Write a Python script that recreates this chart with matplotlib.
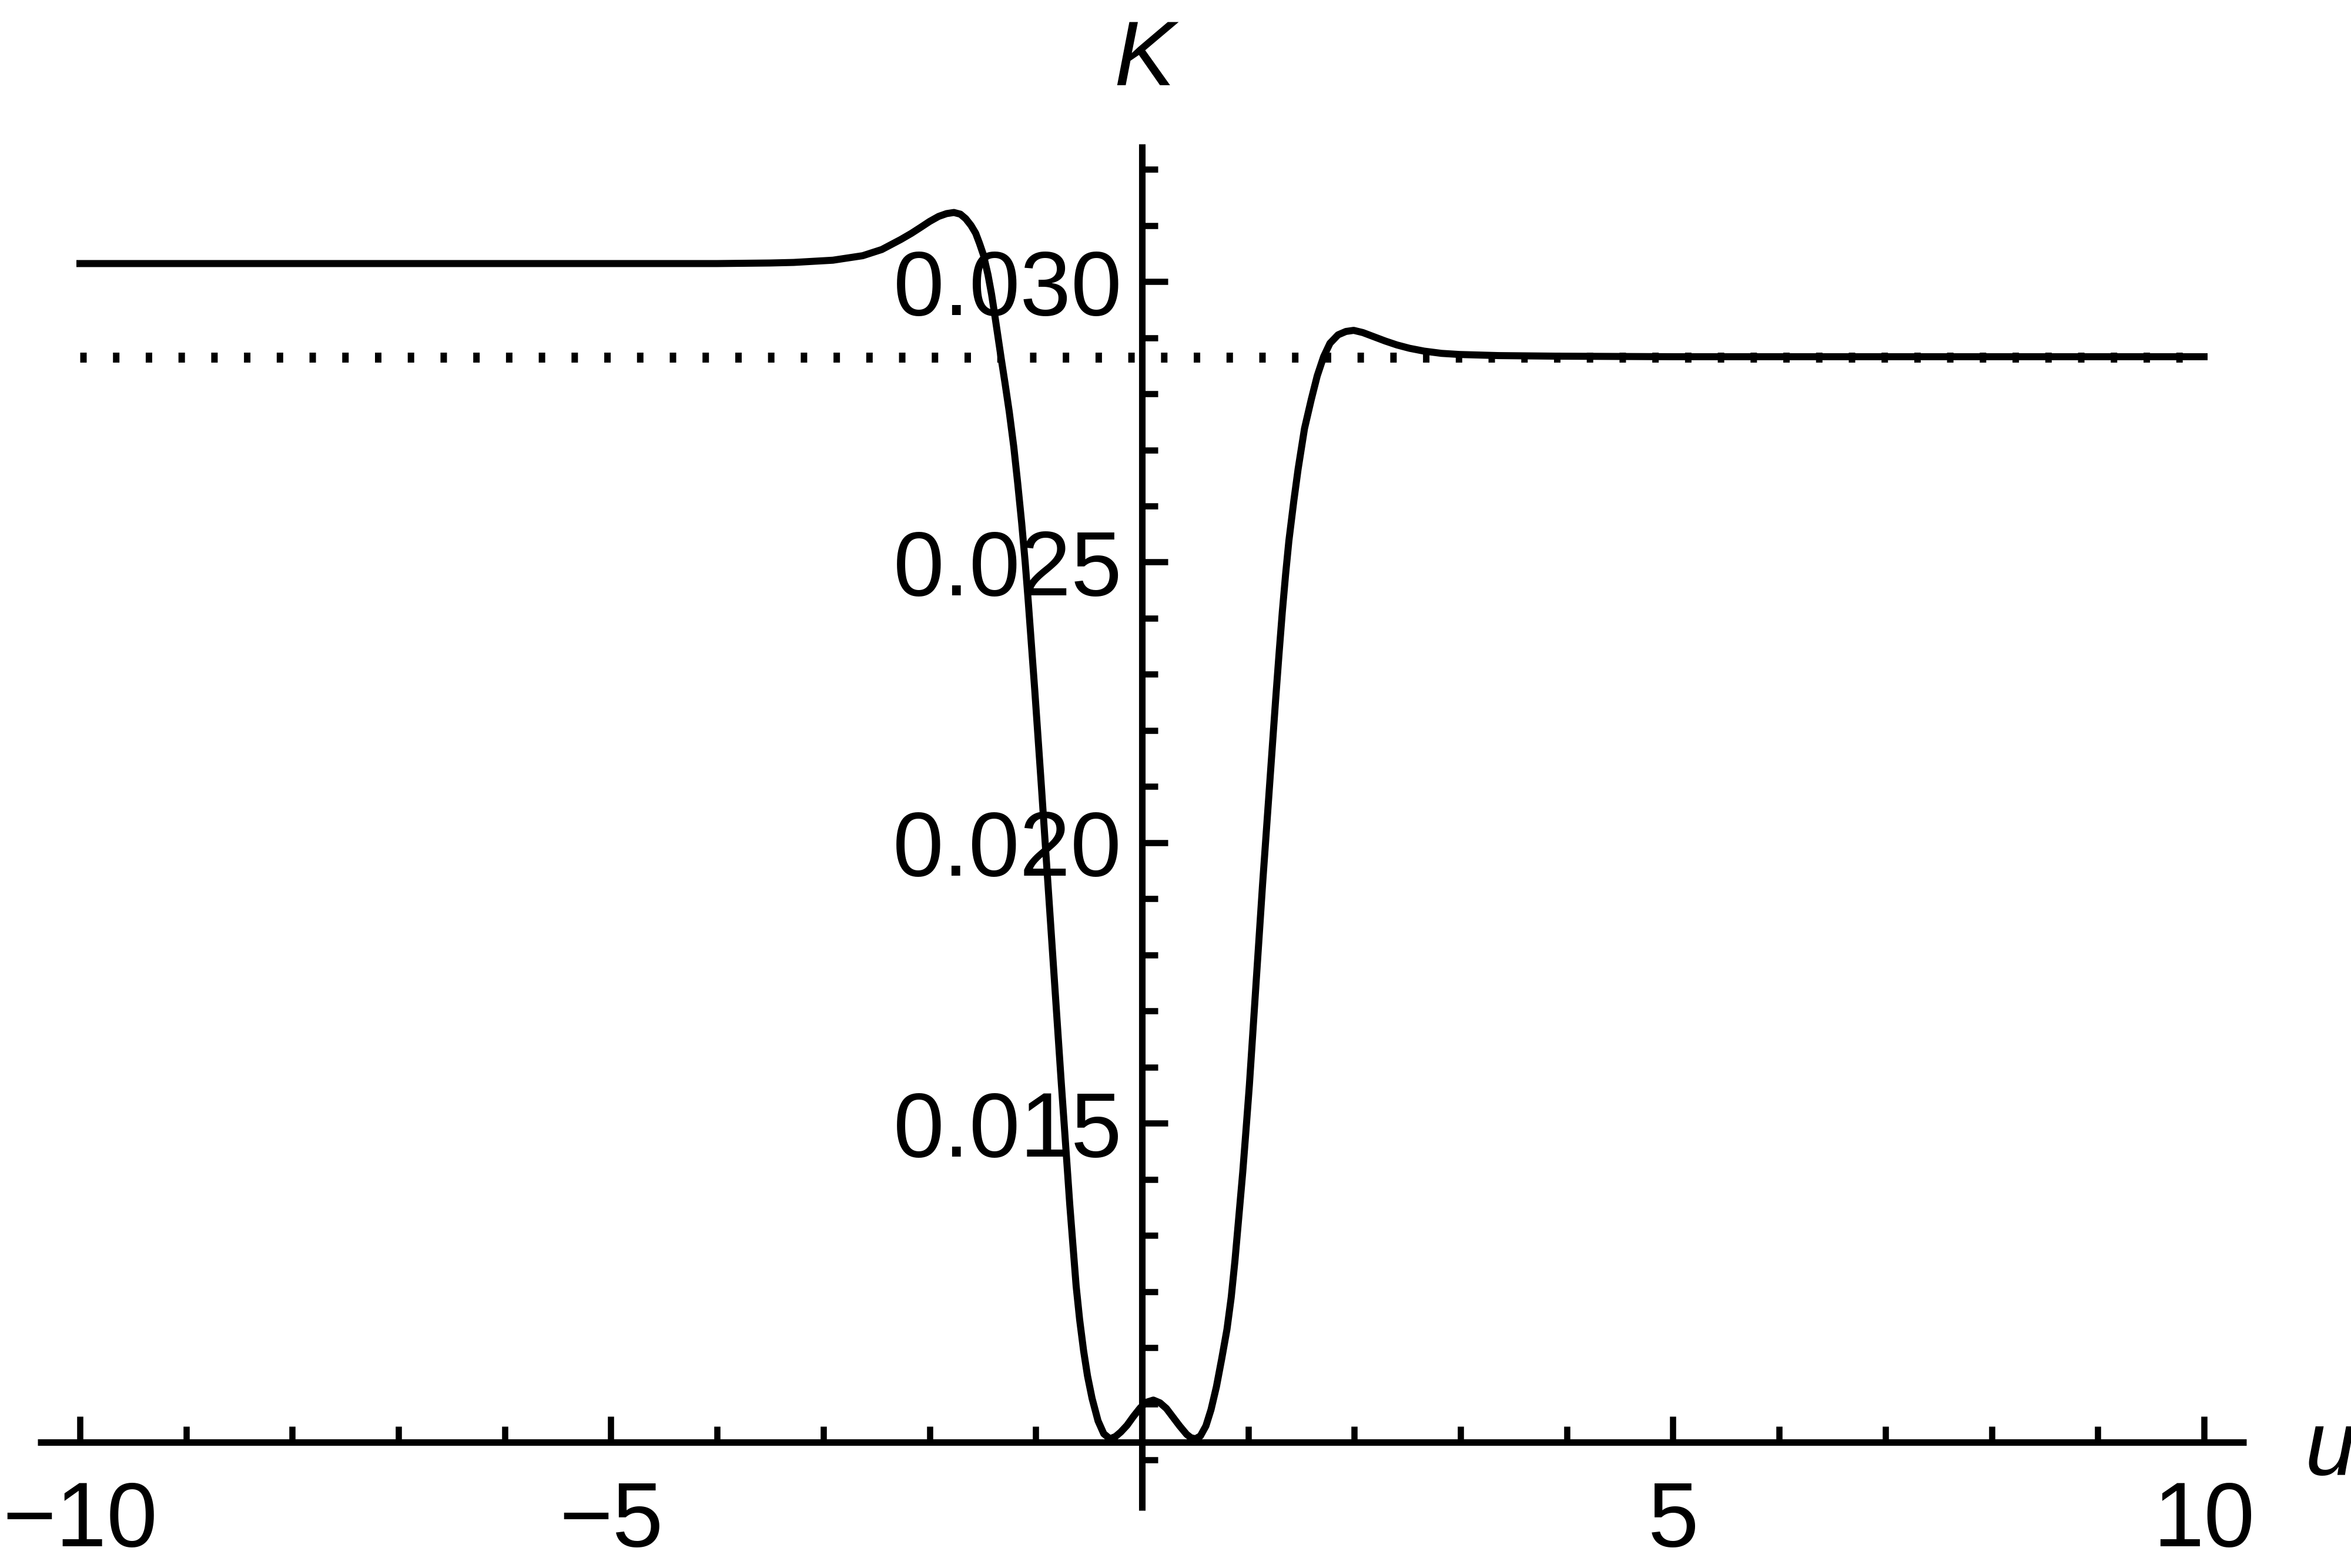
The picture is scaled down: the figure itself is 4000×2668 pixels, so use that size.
import matplotlib
matplotlib.use("Agg")
import matplotlib.pyplot as plt
from matplotlib.ticker import FixedLocator, FixedFormatter

# curve K(u)
u_vals = [-10.0, -8.0, -6.0, -5.0, -4.0, -3.5, -3.28, -2.91, -2.63, -2.45,
          -2.27, -2.17, -2.08, -2.0, -1.915, -1.84, -1.771, -1.71, -1.66, -1.61,
          -1.566, -1.53, -1.494, -1.45, -1.417, -1.39, -1.361, -1.325, -1.289, -1.25,
          -1.207, -1.17, -1.133, -1.10, -1.071, -1.04, -1.009, -0.947, -0.885, -0.823,
          -0.761, -0.711, -0.68, -0.649, -0.62, -0.587, -0.55, -0.513, -0.47, -0.414,
          -0.36, -0.302, -0.25, -0.20, -0.141, -0.08, -0.017, 0.04, 0.107, 0.17,
          0.23, 0.29, 0.354, 0.42, 0.46, 0.503, 0.55, 0.602, 0.65, 0.701,
          0.75, 0.80, 0.84, 0.875, 0.91, 0.949, 0.98, 1.011, 1.042, 1.073,
          1.104, 1.135, 1.166, 1.197, 1.228, 1.259, 1.29, 1.321, 1.352, 1.383,
          1.43, 1.47, 1.53, 1.594, 1.65, 1.71, 1.77, 1.846, 1.92, 1.993,
          2.08, 2.178, 2.29, 2.40, 2.52, 2.656, 2.82, 2.99, 3.36, 3.9,
          5.0, 7.0, 10.0]
k_vals = [0.03032, 0.03032, 0.03032, 0.03032, 0.03032, 0.03033, 0.03034, 0.03038, 0.03046, 0.03057,
          0.03075, 0.03086, 0.03097, 0.03107, 0.03116, 0.03121, 0.03123, 0.03120, 0.03112, 0.03100,
          0.03086, 0.03068, 0.03048, 0.03012, 0.02978, 0.02945, 0.02908, 0.02862, 0.02818, 0.02768,
          0.02705, 0.02640, 0.02570, 0.02500, 0.02430, 0.02350, 0.02270, 0.02100, 0.01925, 0.01750,
          0.01575, 0.01440, 0.01355, 0.01280, 0.01210, 0.01150, 0.01095, 0.01050, 0.01010, 0.00970,
          0.00947, 0.00938, 0.00942, 0.00950, 0.00962, 0.00978, 0.00993, 0.01003, 0.01007, 0.01002,
          0.00992, 0.00977, 0.00961, 0.00946, 0.00940, 0.00938, 0.00943, 0.00961, 0.00990, 0.01031,
          0.01080, 0.01133, 0.01190, 0.01255, 0.01330, 0.01414, 0.01490, 0.01568, 0.01657, 0.01747,
          0.01836, 0.01925, 0.02008, 0.02091, 0.02174, 0.02257, 0.02336, 0.02411, 0.02478, 0.02538,
          0.02610, 0.02666, 0.02738, 0.02790, 0.02832, 0.02866, 0.02890, 0.02905, 0.02911, 0.02913,
          0.02909, 0.02902, 0.02894, 0.02887, 0.02881, 0.02876, 0.02872, 0.02870, 0.02868, 0.02867,
          0.02866, 0.02866, 0.02866]

# dotted asymptote
k_ref = 0.02865
u_ref = [-10.0, 10.0]

x_major = [-10, -5, 5, 10]
x_labels = ["\u221210", "\u22125", "5", "10"]
x_minor = [-9, -8, -7, -6, -4, -3, -2, -1, 1, 2, 3, 4, 6, 7, 8, 9]
y_major = [0.015, 0.020, 0.025, 0.030]
y_labels = ["0.015", "0.020", "0.025", "0.030"]
y_minor = [0.009, 0.010, 0.011, 0.012, 0.013, 0.014, 0.016, 0.017, 0.018, 0.019,
           0.021, 0.022, 0.023, 0.024, 0.026, 0.027, 0.028, 0.029, 0.031, 0.032]

k_axis = 0.00932   # where the u axis crosses

plt.rcParams['font.family'] = ['Liberation Sans', 'DejaVu Sans']
plt.rcParams['lines.scale_dashes'] = False

fig = plt.figure(figsize=(10, 6.67), dpi=400)
ax = fig.add_axes([0, 0, 1, 1])
ax.set_xlim(-10.7526, 11.3835)
ax.set_ylim(0.007078, 0.035016)

ax.plot(u_ref, [k_ref, k_ref], color='black', lw=3.06,
        linestyle=(0, (1.98, 8.05)), dash_capstyle='butt', zorder=3)
ax.plot(u_vals, k_vals, color='black', lw=2.16, solid_joinstyle='round', zorder=4)

for s in ['top', 'right']:
    ax.spines[s].set_visible(False)
ax.spines['left'].set_position(('data', 0))
ax.spines['bottom'].set_position(('data', k_axis))
ax.spines['left'].set_bounds(0.008105, 0.03245)
ax.spines['bottom'].set_bounds(-10.4, 10.4)
for s in ['left', 'bottom']:
    ax.spines[s].set_linewidth(2.0)
    ax.spines[s].set_capstyle('butt')

ax.xaxis.set_major_locator(FixedLocator(x_major))
ax.xaxis.set_major_formatter(FixedFormatter(x_labels))
ax.xaxis.set_minor_locator(FixedLocator(x_minor))
ax.yaxis.set_major_locator(FixedLocator(y_major))
ax.yaxis.set_major_formatter(FixedFormatter(y_labels))
ax.yaxis.set_minor_locator(FixedLocator(y_minor))

ax.tick_params(which='both', direction='in', width=1.9, color='black', labelsize=28)
ax.tick_params(which='major', length=7.9)
ax.tick_params(which='minor', length=4.9)
ax.tick_params(axis='x', pad=11.6)
ax.tick_params(axis='y', pad=6.1)

ax.text(0.02, 0.033497, "K", fontsize=28, style='italic', ha='center', va='baseline')
ax.text(10.95, 0.008733, "u", fontsize=28, style='italic', ha='left', va='baseline')

fig.savefig("out.png", dpi=400, facecolor='white')
